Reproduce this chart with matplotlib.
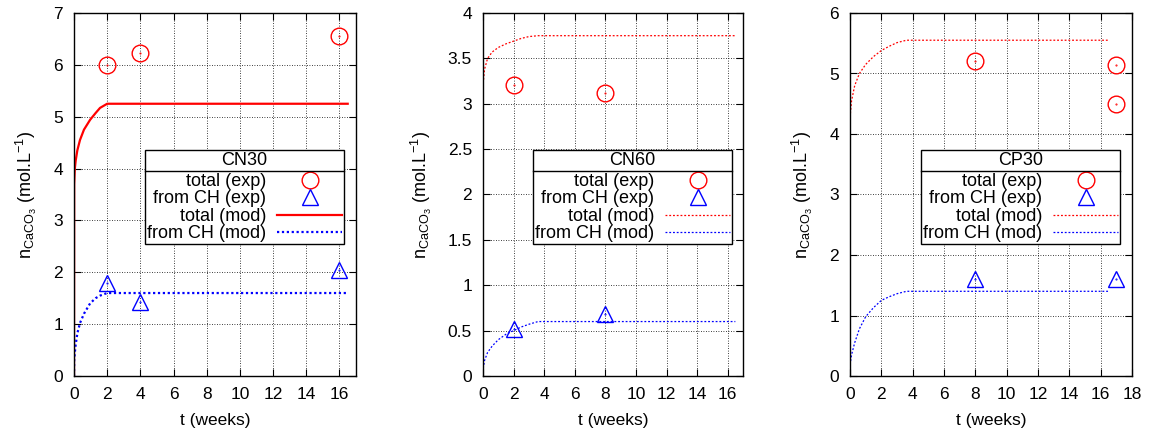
import numpy as np
import matplotlib
matplotlib.use("Agg")
import matplotlib.pyplot as plt
from matplotlib.lines import Line2D

plt.rcParams["font.family"] = ["Liberation Sans", "DejaVu Sans"]
plt.rcParams["font.size"] = 10
plt.rcParams["mathtext.fontset"] = "custom"
plt.rcParams["mathtext.rm"] = "Liberation Sans"

# CN30
cn30_t_exp = [2, 4, 16]
cn30_total_exp = [6.0, 6.22, 6.56]
cn30_ch_exp = [1.80, 1.42, 2.05]
cn30_t_mod = [0, 0.01, 0.05, 0.1, 0.2, 0.36, 0.6, 0.97, 1.3, 1.57, 2.0, 16.5]
cn30_total_mod = [0, 3.7, 4.0, 4.15, 4.35, 4.55, 4.75, 4.94, 5.07, 5.17, 5.25, 5.25]
cn30_ch_mod = [0, 0.3, 0.45, 0.6, 0.82, 1.02, 1.2, 1.4, 1.5, 1.55, 1.6, 1.6]

# CN60
cn60_t_exp = [2, 8]
cn60_total_exp = [3.21, 3.12]
cn60_ch_exp = [0.52, 0.68]
cn60_t_mod = [0, 0.01, 0.1, 0.3, 0.6, 1.0, 1.5, 2.0, 2.5, 3.0, 3.6, 16.5]
cn60_total_mod = [0, 3.22, 3.38, 3.5, 3.57, 3.62, 3.66, 3.69, 3.72, 3.74, 3.75, 3.75]
cn60_ch_mod = [0, 0.08, 0.17, 0.26, 0.33, 0.4, 0.46, 0.5, 0.54, 0.57, 0.6, 0.6]

# CP30
cp30_t_exp = [8, 17, 17]
cp30_total_exp = [5.2, 5.14, 4.5]
cp30_t_ch = [8, 17]
cp30_ch_exp = [1.6, 1.6]
cp30_t_mod = [0, 0.01, 0.1, 0.3, 0.6, 1.0, 1.5, 2.0, 2.5, 3.0, 3.6, 16.5]
cp30_total_mod = [0, 4.3, 4.55, 4.8, 5.0, 5.15, 5.28, 5.38, 5.45, 5.51, 5.55, 5.55]
cp30_ch_mod = [0, 0.2, 0.35, 0.55, 0.78, 0.98, 1.13, 1.25, 1.31, 1.36, 1.4, 1.4]

dots = (0, (1.5, 1.5))
panels = [
    ("CN30", cn30_t_exp, cn30_total_exp, cn30_t_exp, cn30_ch_exp,
     cn30_t_mod, cn30_total_mod, cn30_ch_mod, 17, 7, 1, np.arange(0, 17, 2),
     "-", (0, (1, 1.2)), 1.6),
    ("CN60", cn60_t_exp, cn60_total_exp, cn60_t_exp, cn60_ch_exp,
     cn60_t_mod, cn60_total_mod, cn60_ch_mod, 17, 4, 0.5, np.arange(0, 17, 2),
     dots, dots, 0.9),
    ("CP30", cp30_t_exp, cp30_total_exp, cp30_t_ch, cp30_ch_exp,
     cp30_t_mod, cp30_total_mod, cp30_ch_mod, 18, 6, 1, np.arange(0, 19, 2),
     dots, dots, 0.9),
]
lefts = [74, 483, 850]
rights = [356, 743, 1132]
W, H = 1152, 436

fig = plt.figure(figsize=(W / 100, H / 100), dpi=100)
legends = []
for (name, te, tot, tc, ch, tm, totm, chm, xmax, ymax, ystep, xt, ls_tot, ls_ch, lw), l, r in zip(panels, lefts, rights):
    ax = fig.add_axes([l / W, (H - 376) / H, (r - l) / W, (376 - 13) / H])
    ax.plot(te, tot, "o", mfc="none", mec="red", ms=12, mew=1, label="total (exp)")
    ax.plot(tc, ch, "^", mfc="none", mec="blue", ms=12, mew=1, label="from CH (exp)")
    ax.plot(te, tot, ".", color="red", ms=1)
    ax.plot(tc, ch, ".", color="blue", ms=1)
    ax.plot(tm, totm, color="red", ls=ls_tot, lw=lw, label="total (mod)")
    ax.plot(tm, chm, color="blue", ls=ls_ch, lw=lw, label="from CH (mod)")
    ax.set_xlim(0, xmax)
    ax.set_ylim(0, ymax)
    ax.set_xticks(xt)
    ax.set_yticks(np.arange(0, ymax + ystep / 2, ystep))
    ax.yaxis.set_major_formatter(plt.FuncFormatter(lambda v, p: f"{v:g}"))
    ax.tick_params(direction="in", top=True, right=True, length=5, labelsize=12.5, pad=8)
    ax.grid(True, color="black", ls=(0, (1, 2)), lw=0.6)
    ax.set_axisbelow(True)
    ax.set_xlabel("t (weeks)", fontsize=12.5, labelpad=8)
    ax.set_ylabel(r"n$_\mathregular{CaCO_3}$ (mol.L$^\mathregular{-1}$)", fontsize=13, labelpad=10)
    for s in ax.spines.values():
        s.set_linewidth(1)
    leg = ax.legend(title=name, loc="upper right", bbox_to_anchor=(0.957, 0.623),
                    markerfirst=False, fancybox=False, edgecolor="black", framealpha=1,
                    fontsize=13, title_fontsize=13, handlelength=3.6, handletextpad=0.6,
                    labelspacing=0.03, borderpad=0.1, borderaxespad=0, numpoints=1)
    leg.get_frame().set_linewidth(1)
    leg._legend_box.sep = 3
    legends.append(leg)

fig.canvas.draw()
renderer = fig.canvas.get_renderer()
for leg in legends:
    fb = leg.get_frame().get_window_extent(renderer)
    tb = leg.get_title().get_window_extent(renderer)
    first = leg.get_texts()[0].get_window_extent(renderer)
    y = (tb.y0 + first.y1) / 2
    fig.add_artist(Line2D([fb.x0 / W, fb.x1 / W], [y / H, y / H], color="black", lw=1,
                          transform=fig.transFigure))

fig.savefig("out.png", dpi=100)
